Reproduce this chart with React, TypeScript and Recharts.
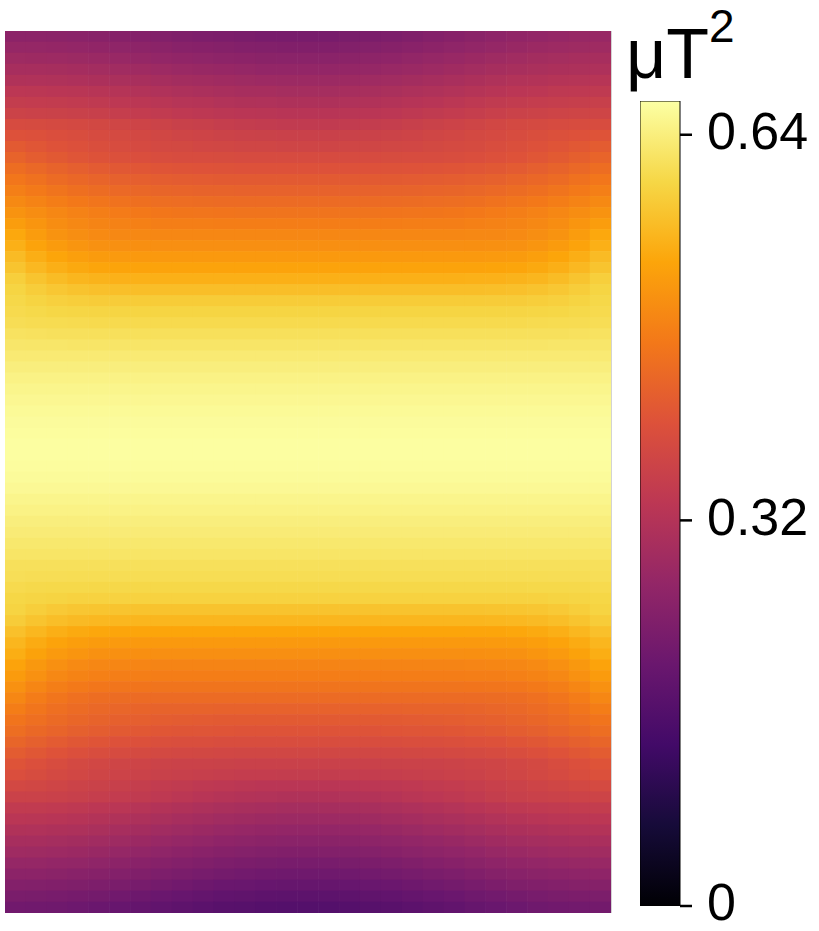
import React from 'react';
import { ScatterChart, Scatter, XAxis, YAxis, BarChart, Bar, ReferenceLine } from 'recharts';

// ---- heatmap values (μT²), one array per row from top to bottom, 29 columns left to right ----
const r00 = [.256,.255,.254,.252,.249,.246,.242,.239,.235,.232,.229,.226,.224,.223,.223,.224,.225,.228,.232,.237,.242,.247,.253,.259,.264,.268,.271,.274,.275];
const r01 = [.271,.270,.269,.267,.264,.261,.257,.254,.250,.247,.244,.241,.239,.238,.238,.238,.240,.243,.246,.251,.256,.261,.266,.271,.276,.280,.283,.285,.286];
const r02 = [.285,.284,.283,.281,.278,.275,.271,.268,.264,.261,.258,.255,.253,.252,.252,.252,.254,.257,.260,.265,.270,.275,.280,.285,.290,.294,.297,.299,.300];
const r03 = [.300,.299,.298,.296,.293,.290,.286,.283,.279,.276,.273,.270,.268,.267,.267,.267,.269,.271,.275,.279,.283,.288,.293,.298,.302,.305,.308,.310,.311];
const r04 = [.315,.314,.313,.311,.308,.305,.301,.298,.294,.291,.288,.285,.283,.282,.282,.282,.284,.286,.290,.294,.298,.303,.308,.313,.317,.320,.323,.325,.326];
const r05 = [.334,.333,.331,.329,.326,.322,.318,.314,.310,.307,.303,.300,.299,.297,.297,.297,.299,.301,.305,.309,.313,.318,.323,.328,.332,.335,.338,.340,.341];
const r06 = [.349,.348,.346,.344,.341,.337,.333,.329,.325,.322,.318,.315,.314,.312,.312,.312,.314,.316,.320,.324,.328,.333,.338,.343,.347,.350,.353,.355,.356];
const r07 = [.364,.363,.361,.359,.356,.352,.348,.344,.340,.337,.333,.330,.329,.327,.327,.327,.329,.331,.335,.339,.343,.348,.353,.358,.362,.365,.368,.370,.371];
const r08 = [.386,.385,.383,.380,.377,.373,.368,.364,.359,.356,.352,.349,.347,.345,.345,.345,.347,.349,.353,.357,.361,.366,.371,.376,.380,.383,.386,.388,.389];
const r09 = [.401,.398,.394,.390,.386,.382,.378,.374,.371,.368,.365,.363,.361,.360,.360,.360,.361,.363,.365,.368,.372,.376,.380,.384,.388,.393,.397,.401,.405];
const r10 = [.416,.409,.403,.398,.393,.388,.384,.381,.379,.376,.374,.372,.372,.371,.371,.371,.372,.372,.374,.376,.379,.382,.385,.390,.395,.400,.406,.412,.419];
const r11 = [.431,.422,.414,.407,.402,.397,.394,.391,.389,.388,.387,.386,.386,.386,.386,.386,.386,.386,.387,.388,.389,.391,.394,.398,.403,.409,.416,.425,.434];
const r12 = [.449,.440,.431,.424,.418,.413,.409,.406,.404,.403,.402,.401,.401,.401,.401,.401,.401,.401,.402,.403,.404,.406,.409,.413,.418,.424,.431,.440,.449];
const r13 = [.464,.455,.446,.439,.433,.428,.424,.421,.419,.418,.417,.416,.416,.416,.416,.416,.416,.416,.417,.418,.419,.421,.424,.428,.433,.439,.446,.455,.464];
const r14 = [.478,.469,.460,.453,.447,.442,.438,.435,.433,.432,.431,.430,.430,.430,.430,.430,.430,.430,.431,.432,.433,.435,.438,.442,.447,.453,.460,.469,.478];
const r15 = [.493,.484,.475,.468,.462,.457,.453,.450,.448,.447,.446,.445,.445,.445,.445,.445,.445,.445,.446,.447,.448,.450,.453,.457,.462,.468,.475,.484,.493];
const r16 = [.508,.499,.490,.483,.477,.472,.468,.465,.463,.462,.461,.460,.460,.460,.460,.460,.460,.460,.461,.462,.463,.465,.468,.472,.477,.483,.490,.499,.508];
const r17 = [.523,.510,.499,.491,.486,.482,.479,.477,.476,.476,.475,.475,.475,.475,.475,.475,.475,.475,.475,.476,.476,.477,.479,.482,.486,.491,.499,.510,.523];
const r18 = [.538,.521,.508,.500,.494,.492,.491,.490,.490,.490,.490,.490,.490,.490,.490,.490,.490,.490,.490,.490,.490,.490,.491,.492,.494,.500,.508,.521,.538];
const r19 = [.549,.532,.519,.511,.505,.503,.502,.501,.501,.501,.501,.501,.501,.501,.501,.501,.501,.501,.501,.501,.501,.501,.502,.503,.505,.511,.519,.532,.549];
const r20 = [.564,.547,.534,.526,.520,.518,.517,.516,.516,.516,.516,.516,.516,.516,.516,.516,.516,.516,.516,.516,.516,.516,.517,.518,.520,.526,.534,.547,.564];
const r21 = [.576,.560,.548,.540,.535,.533,.532,.531,.531,.531,.531,.531,.531,.531,.531,.531,.531,.531,.531,.531,.531,.531,.532,.533,.535,.540,.548,.560,.576];
const r22 = [.590,.576,.565,.557,.553,.551,.550,.549,.549,.549,.549,.549,.549,.549,.549,.549,.549,.549,.549,.549,.549,.549,.550,.551,.553,.557,.565,.576,.590];
const r23 = [.598,.588,.580,.574,.571,.569,.568,.568,.568,.568,.568,.568,.568,.568,.568,.568,.568,.568,.568,.568,.568,.568,.568,.569,.571,.574,.580,.588,.598];
const r24 = [.603,.597,.592,.589,.587,.587,.586,.586,.586,.586,.586,.586,.586,.586,.586,.586,.586,.586,.586,.586,.586,.586,.586,.587,.587,.589,.592,.597,.603];
const r25 = [.607,.604,.601,.600,.599,.598,.598,.598,.598,.598,.598,.598,.598,.598,.598,.598,.598,.598,.598,.598,.598,.598,.598,.598,.599,.600,.601,.604,.607];
const r26 = [.612,.610,.609,.608,.607,.607,.607,.607,.607,.607,.607,.607,.607,.607,.607,.607,.607,.607,.607,.607,.607,.607,.607,.607,.607,.608,.609,.610,.612];
const r27 = [.620,.618,.617,.617,.616,.616,.616,.616,.616,.616,.616,.616,.616,.616,.616,.616,.616,.616,.616,.616,.616,.616,.616,.616,.616,.617,.617,.618,.620];
const r28 = [.627,.626,.626,.625,.625,.625,.625,.625,.625,.625,.625,.625,.625,.625,.625,.625,.625,.625,.625,.625,.625,.625,.625,.625,.625,.625,.626,.626,.627];
const r29 = [.633,.633,.633,.633,.633,.633,.633,.633,.633,.633,.633,.633,.633,.633,.633,.633,.633,.633,.633,.633,.633,.633,.633,.633,.633,.633,.633,.633,.633];
const r30 = [.640,.640,.640,.640,.640,.640,.640,.640,.640,.640,.640,.640,.640,.640,.640,.640,.640,.640,.640,.640,.640,.640,.640,.640,.640,.640,.640,.640,.640];
const r31 = [.646,.646,.646,.646,.646,.646,.646,.646,.646,.646,.646,.646,.646,.646,.646,.646,.646,.646,.646,.646,.646,.646,.646,.646,.646,.646,.646,.646,.646];
const r32 = [.651,.651,.651,.651,.651,.651,.651,.651,.651,.651,.651,.651,.651,.651,.651,.651,.651,.651,.651,.651,.651,.651,.651,.651,.651,.651,.651,.651,.651];
const r33 = [.655,.655,.655,.655,.655,.655,.655,.655,.655,.655,.655,.655,.655,.655,.655,.655,.655,.655,.655,.655,.655,.655,.655,.655,.655,.655,.655,.655,.655];
const r34 = [.659,.659,.659,.659,.659,.659,.659,.659,.659,.659,.659,.659,.659,.659,.659,.659,.659,.659,.659,.659,.659,.659,.659,.659,.659,.659,.659,.659,.659];
const r35 = [.662,.662,.662,.662,.662,.662,.662,.662,.662,.662,.662,.662,.662,.662,.662,.662,.662,.662,.662,.662,.662,.662,.662,.662,.662,.662,.662,.662,.662];
const r36 = [.664,.664,.664,.664,.664,.664,.664,.664,.664,.664,.664,.664,.664,.664,.664,.664,.664,.664,.664,.664,.664,.664,.664,.664,.664,.664,.664,.664,.664];
const r37 = [.666,.666,.666,.666,.666,.666,.666,.666,.666,.666,.666,.666,.666,.666,.666,.666,.666,.666,.666,.666,.666,.666,.666,.666,.666,.666,.666,.666,.666];
const r38 = [.666,.666,.666,.666,.666,.666,.666,.666,.666,.666,.666,.666,.666,.666,.666,.666,.666,.666,.666,.666,.666,.666,.666,.666,.666,.666,.666,.666,.666];
const r39 = [.664,.664,.664,.664,.664,.664,.664,.664,.664,.664,.664,.664,.664,.664,.664,.664,.664,.664,.664,.664,.664,.664,.664,.664,.664,.664,.664,.664,.664];
const r40 = [.661,.661,.661,.661,.661,.661,.661,.661,.661,.661,.661,.661,.661,.661,.661,.661,.661,.661,.661,.661,.661,.661,.661,.661,.661,.661,.661,.661,.661];
const r41 = [.657,.657,.657,.657,.657,.657,.657,.657,.657,.657,.657,.657,.657,.657,.657,.657,.657,.657,.657,.657,.657,.657,.657,.657,.657,.657,.657,.657,.657];
const r42 = [.651,.651,.651,.651,.651,.651,.651,.651,.651,.651,.651,.651,.651,.651,.651,.651,.651,.651,.651,.651,.651,.651,.651,.651,.651,.651,.651,.651,.651];
const r43 = [.646,.646,.646,.646,.646,.646,.646,.646,.646,.646,.646,.646,.646,.646,.646,.646,.646,.646,.646,.646,.646,.646,.646,.646,.646,.646,.646,.646,.646];
const r44 = [.640,.640,.640,.640,.640,.640,.640,.640,.640,.640,.640,.640,.640,.640,.640,.640,.640,.640,.640,.640,.640,.640,.640,.640,.640,.640,.640,.640,.640];
const r45 = [.635,.635,.635,.635,.635,.635,.635,.635,.635,.635,.635,.635,.635,.635,.635,.635,.635,.635,.635,.635,.635,.635,.635,.635,.635,.635,.635,.635,.635];
const r46 = [.629,.629,.629,.629,.629,.629,.629,.629,.629,.629,.629,.629,.629,.629,.629,.629,.629,.629,.629,.629,.629,.629,.629,.629,.629,.629,.629,.629,.629];
const r47 = [.624,.624,.624,.624,.624,.624,.624,.624,.624,.624,.624,.624,.624,.624,.624,.624,.624,.624,.624,.624,.624,.624,.624,.624,.624,.624,.624,.624,.624];
const r48 = [.616,.616,.616,.616,.616,.616,.616,.616,.616,.616,.616,.616,.616,.616,.616,.616,.616,.616,.616,.616,.616,.616,.616,.616,.616,.616,.616,.616,.616];
const r49 = [.613,.612,.612,.611,.611,.611,.611,.611,.611,.611,.611,.611,.611,.611,.611,.611,.611,.611,.611,.611,.611,.611,.611,.611,.611,.611,.612,.612,.613];
const r50 = [.607,.605,.604,.604,.603,.603,.603,.603,.603,.603,.603,.603,.603,.603,.603,.603,.603,.603,.603,.603,.603,.603,.603,.603,.603,.604,.604,.605,.607];
const r51 = [.601,.599,.597,.595,.595,.594,.594,.594,.594,.594,.594,.594,.594,.594,.594,.594,.594,.594,.594,.594,.594,.594,.594,.594,.595,.595,.597,.599,.601];
const r52 = [.597,.589,.583,.579,.577,.576,.575,.575,.575,.575,.575,.575,.575,.575,.575,.575,.575,.575,.575,.575,.575,.575,.575,.576,.577,.579,.583,.589,.597];
const r53 = [.587,.576,.568,.563,.560,.558,.557,.557,.557,.557,.557,.557,.557,.557,.557,.557,.557,.557,.557,.557,.557,.557,.557,.558,.560,.563,.568,.576,.587];
const r54 = [.571,.558,.548,.541,.537,.535,.535,.534,.534,.534,.534,.534,.534,.534,.534,.534,.534,.534,.534,.534,.534,.534,.535,.535,.537,.541,.548,.558,.571];
const r55 = [.557,.543,.532,.524,.520,.518,.517,.516,.516,.516,.516,.516,.516,.516,.516,.516,.516,.516,.516,.516,.516,.516,.517,.518,.520,.524,.532,.543,.557];
const r56 = [.546,.530,.518,.510,.505,.503,.502,.501,.501,.501,.501,.501,.501,.501,.501,.501,.501,.501,.501,.501,.501,.501,.502,.503,.505,.510,.518,.530,.546];
const r57 = [.531,.515,.503,.495,.490,.488,.487,.486,.486,.486,.486,.486,.486,.486,.486,.486,.486,.486,.486,.486,.486,.486,.487,.488,.490,.495,.503,.515,.531];
const r58 = [.520,.504,.492,.484,.479,.477,.476,.475,.475,.475,.475,.475,.475,.475,.475,.475,.475,.475,.475,.475,.475,.475,.476,.477,.479,.484,.492,.504,.520];
const r59 = [.505,.489,.477,.469,.464,.462,.461,.460,.460,.460,.460,.460,.460,.460,.460,.460,.460,.460,.460,.460,.460,.460,.461,.462,.464,.469,.477,.489,.505];
const r60 = [.490,.474,.462,.454,.449,.447,.446,.445,.445,.445,.445,.445,.445,.445,.445,.445,.445,.445,.445,.445,.445,.445,.446,.447,.449,.454,.462,.474,.490];
const r61 = [.475,.462,.452,.445,.440,.436,.434,.432,.431,.431,.430,.430,.430,.430,.430,.430,.430,.430,.430,.431,.431,.432,.434,.436,.440,.445,.452,.462,.475];
const r62 = [.461,.452,.444,.437,.432,.427,.424,.421,.419,.418,.417,.416,.416,.416,.416,.416,.416,.416,.417,.418,.419,.421,.424,.427,.432,.437,.444,.452,.461];
const r63 = [.450,.441,.433,.426,.421,.416,.413,.410,.408,.407,.406,.405,.405,.405,.405,.405,.405,.405,.406,.407,.408,.410,.413,.416,.421,.426,.433,.441,.450];
const r64 = [.435,.426,.418,.411,.406,.401,.398,.395,.393,.392,.391,.390,.390,.390,.390,.390,.390,.390,.391,.392,.393,.395,.398,.401,.406,.411,.418,.426,.435];
const r65 = [.420,.411,.403,.396,.391,.386,.383,.380,.378,.377,.376,.375,.375,.375,.375,.375,.375,.375,.376,.377,.378,.380,.383,.386,.391,.396,.403,.411,.420];
const r66 = [.405,.396,.388,.381,.376,.371,.368,.365,.363,.362,.361,.360,.360,.360,.360,.360,.360,.360,.361,.362,.363,.365,.368,.371,.376,.381,.388,.396,.405];
const r67 = [.394,.387,.381,.376,.371,.366,.362,.359,.357,.354,.352,.350,.350,.349,.349,.349,.350,.350,.352,.354,.357,.360,.363,.368,.373,.378,.384,.390,.397];
const r68 = [.378,.374,.370,.365,.361,.356,.351,.347,.343,.339,.336,.333,.331,.330,.330,.331,.332,.334,.336,.340,.344,.348,.353,.358,.363,.368,.373,.378,.382];
const r69 = [.363,.362,.360,.357,.353,.348,.343,.338,.333,.328,.323,.320,.317,.315,.315,.316,.317,.320,.324,.329,.334,.339,.345,.351,.356,.360,.363,.366,.367];
const r70 = [.345,.344,.342,.339,.335,.330,.325,.320,.315,.310,.305,.302,.299,.297,.297,.298,.299,.302,.306,.311,.316,.321,.327,.333,.338,.342,.345,.348,.349];
const r71 = [.330,.329,.327,.324,.320,.315,.310,.305,.300,.295,.290,.287,.284,.282,.282,.283,.284,.287,.291,.296,.301,.306,.312,.318,.323,.327,.330,.333,.334];
const r72 = [.315,.314,.312,.309,.305,.300,.295,.290,.285,.280,.275,.272,.269,.267,.267,.268,.269,.272,.276,.281,.286,.291,.297,.303,.308,.312,.315,.318,.319];
const r73 = [.300,.299,.297,.294,.290,.285,.280,.275,.270,.265,.260,.257,.254,.252,.252,.253,.254,.257,.261,.266,.271,.276,.282,.288,.293,.297,.300,.303,.304];
const r74 = [.286,.285,.283,.280,.276,.271,.266,.261,.256,.251,.246,.243,.240,.238,.238,.239,.240,.243,.247,.252,.257,.262,.268,.274,.279,.283,.286,.289,.290];
const r75 = [.271,.270,.268,.265,.261,.256,.251,.246,.241,.236,.231,.228,.225,.223,.223,.224,.225,.228,.232,.237,.242,.247,.253,.259,.264,.268,.271,.274,.275];
const r76 = [.256,.255,.253,.250,.246,.241,.236,.231,.226,.221,.216,.213,.210,.208,.208,.209,.210,.213,.217,.222,.227,.232,.238,.244,.249,.253,.256,.259,.260];
const r77 = [.241,.240,.238,.235,.231,.226,.221,.216,.211,.206,.201,.198,.195,.193,.193,.194,.195,.198,.202,.207,.212,.217,.223,.229,.234,.238,.241,.244,.245];
const r78 = [.226,.225,.223,.220,.216,.211,.206,.201,.196,.191,.186,.183,.180,.178,.178,.179,.180,.183,.187,.192,.197,.202,.208,.214,.219,.223,.226,.229,.230];
const r79 = [.211,.210,.208,.205,.201,.196,.191,.186,.181,.176,.171,.168,.165,.163,.163,.164,.165,.168,.172,.177,.182,.187,.193,.199,.204,.208,.211,.214,.215];

const gridRows: number[][] = [
  r00, r01, r02, r03, r04, r05, r06, r07, r08, r09,
  r10, r11, r12, r13, r14, r15, r16, r17, r18, r19,
  r20, r21, r22, r23, r24, r25, r26, r27, r28, r29,
  r30, r31, r32, r33, r34, r35, r36, r37, r38, r39,
  r40, r41, r42, r43, r44, r45, r46, r47, r48, r49,
  r50, r51, r52, r53, r54, r55, r56, r57, r58, r59,
  r60, r61, r62, r63, r64, r65, r66, r67, r68, r69,
  r70, r71, r72, r73, r74, r75, r76, r77, r78, r79,
];

// colour scale
const colorbarMax = 0.668;
const colorbarTicks = [0, 0.32, 0.64];
const colorbarTitle = 'μT';
const colorbarTitleSup = '2';

const infernoStops = ['#000004', '#160b39', '#420a68', '#6a176e', '#932667', '#bc3754', '#dd513a', '#f37819', '#fca50a', '#f6d746', '#fcffa4'];

const NCOLS = 29;
const NROWS = gridRows.length;

const FONT = 'Liberation Sans, Arial, Helvetica, sans-serif';
const PLOT_LEFT = 5;
const PLOT_TOP = 31;
const PLOT_W = 606;
const PLOT_H = 882;
const CELL_W = PLOT_W / NCOLS;
const CELL_H = PLOT_H / NROWS;
const TICK_FONT = 52;

function hexToRgb(h: string) {
  const n = parseInt(h.slice(1), 16);
  return [(n >> 16) & 255, (n >> 8) & 255, n & 255];
}
const stopRgb = infernoStops.map(hexToRgb);

function colorFor(v: number) {
  let t = v / colorbarMax;
  t = Math.max(0, Math.min(1, t));
  const p = t * (stopRgb.length - 1);
  const i = Math.min(stopRgb.length - 2, Math.floor(p));
  const f = p - i;
  const a = stopRgb[i];
  const b = stopRgb[i + 1];
  const c = a.map((x, k) => Math.round(x + (b[k] - x) * f));
  return `rgb(${c[0]},${c[1]},${c[2]})`;
}

const cells = gridRows.flatMap((row, i) =>
  row.map((v, k) => ({ x: k + 0.5, y: NROWS - i - 0.5, v }))
);

const CellShape = (props: any) => {
  const { cx, cy, payload } = props;
  if (cx == null || cy == null) return null;
  return (
    <rect
      x={cx - CELL_W / 2 - 0.3}
      y={cy - CELL_H / 2 - 0.3}
      width={CELL_W + 0.6}
      height={CELL_H + 0.6}
      fill={colorFor(payload.v)}
    />
  );
};

const ColorbarTick = (props: any) => {
  const { x, y, payload } = props;
  return (
    <text
      x={x}
      y={y}
      dy={TICK_FONT * 0.355 - 4}
      textAnchor="start"
      fontSize={TICK_FONT}
      fontFamily={FONT}
      fill="#000"
    >
      {String(payload.value)}
    </text>
  );
};

const colorbarData = [{ name: 'scale', top: colorbarMax }];

export default function App() {
  return (
    <div style={{ position: 'absolute', left: 0, top: 0, width: 819, height: 931, background: '#fff' }}>
      <div style={{ position: 'absolute', left: 0, top: 0 }}>
        <ScatterChart
          width={819}
          height={931}
          margin={{ top: PLOT_TOP, left: PLOT_LEFT, right: 819 - PLOT_LEFT - PLOT_W, bottom: 931 - PLOT_TOP - PLOT_H }}
        >
          <XAxis type="number" dataKey="x" domain={[0, NCOLS]} allowDataOverflow hide />
          <YAxis type="number" dataKey="y" domain={[0, NROWS]} allowDataOverflow hide />
          <Scatter data={cells} shape={CellShape} isAnimationActive={false} />
          <ReferenceLine x={NCOLS} stroke="#000" strokeOpacity={0.35} strokeWidth={1} />
        </ScatterChart>
      </div>
      <div style={{ position: 'absolute', left: 640, top: 0 }}>
        <BarChart
          width={179}
          height={931}
          data={colorbarData}
          margin={{ top: 101, left: 0, right: 0, bottom: 25 }}
          barCategoryGap={0}
        >
          <defs>
            <linearGradient id="cbarGrad" x1="0" y1="0" x2="0" y2="1">
              {infernoStops.map((c, k) => (
                <stop key={k} offset={`${100 - k * 10}%`} stopColor={c} />
              )).reverse()}
            </linearGradient>
          </defs>
          <XAxis dataKey="name" hide />
          <YAxis
            orientation="right"
            type="number"
            domain={[0, colorbarMax]}
            allowDataOverflow
            ticks={colorbarTicks}
            interval={0}
            width={139}
            axisLine={false}
            tickLine={{ stroke: '#000', strokeWidth: 2.5 }}
            tickSize={12}
            tickMargin={15}
            tick={<ColorbarTick />}
          />
          <Bar dataKey="top" fill="url(#cbarGrad)" stroke="#000" strokeWidth={1} isAnimationActive={false} />
        </BarChart>
      </div>
      <svg width={819} height={931} style={{ position: 'absolute', left: 0, top: 0, pointerEvents: 'none' }}>
        <text x={626} y={78} fontFamily={FONT} fontSize={70} fill="#000">
          {colorbarTitle}
          <tspan fontSize={46} dy={-36}>{colorbarTitleSup}</tspan>
        </text>
      </svg>
    </div>
  );
}
